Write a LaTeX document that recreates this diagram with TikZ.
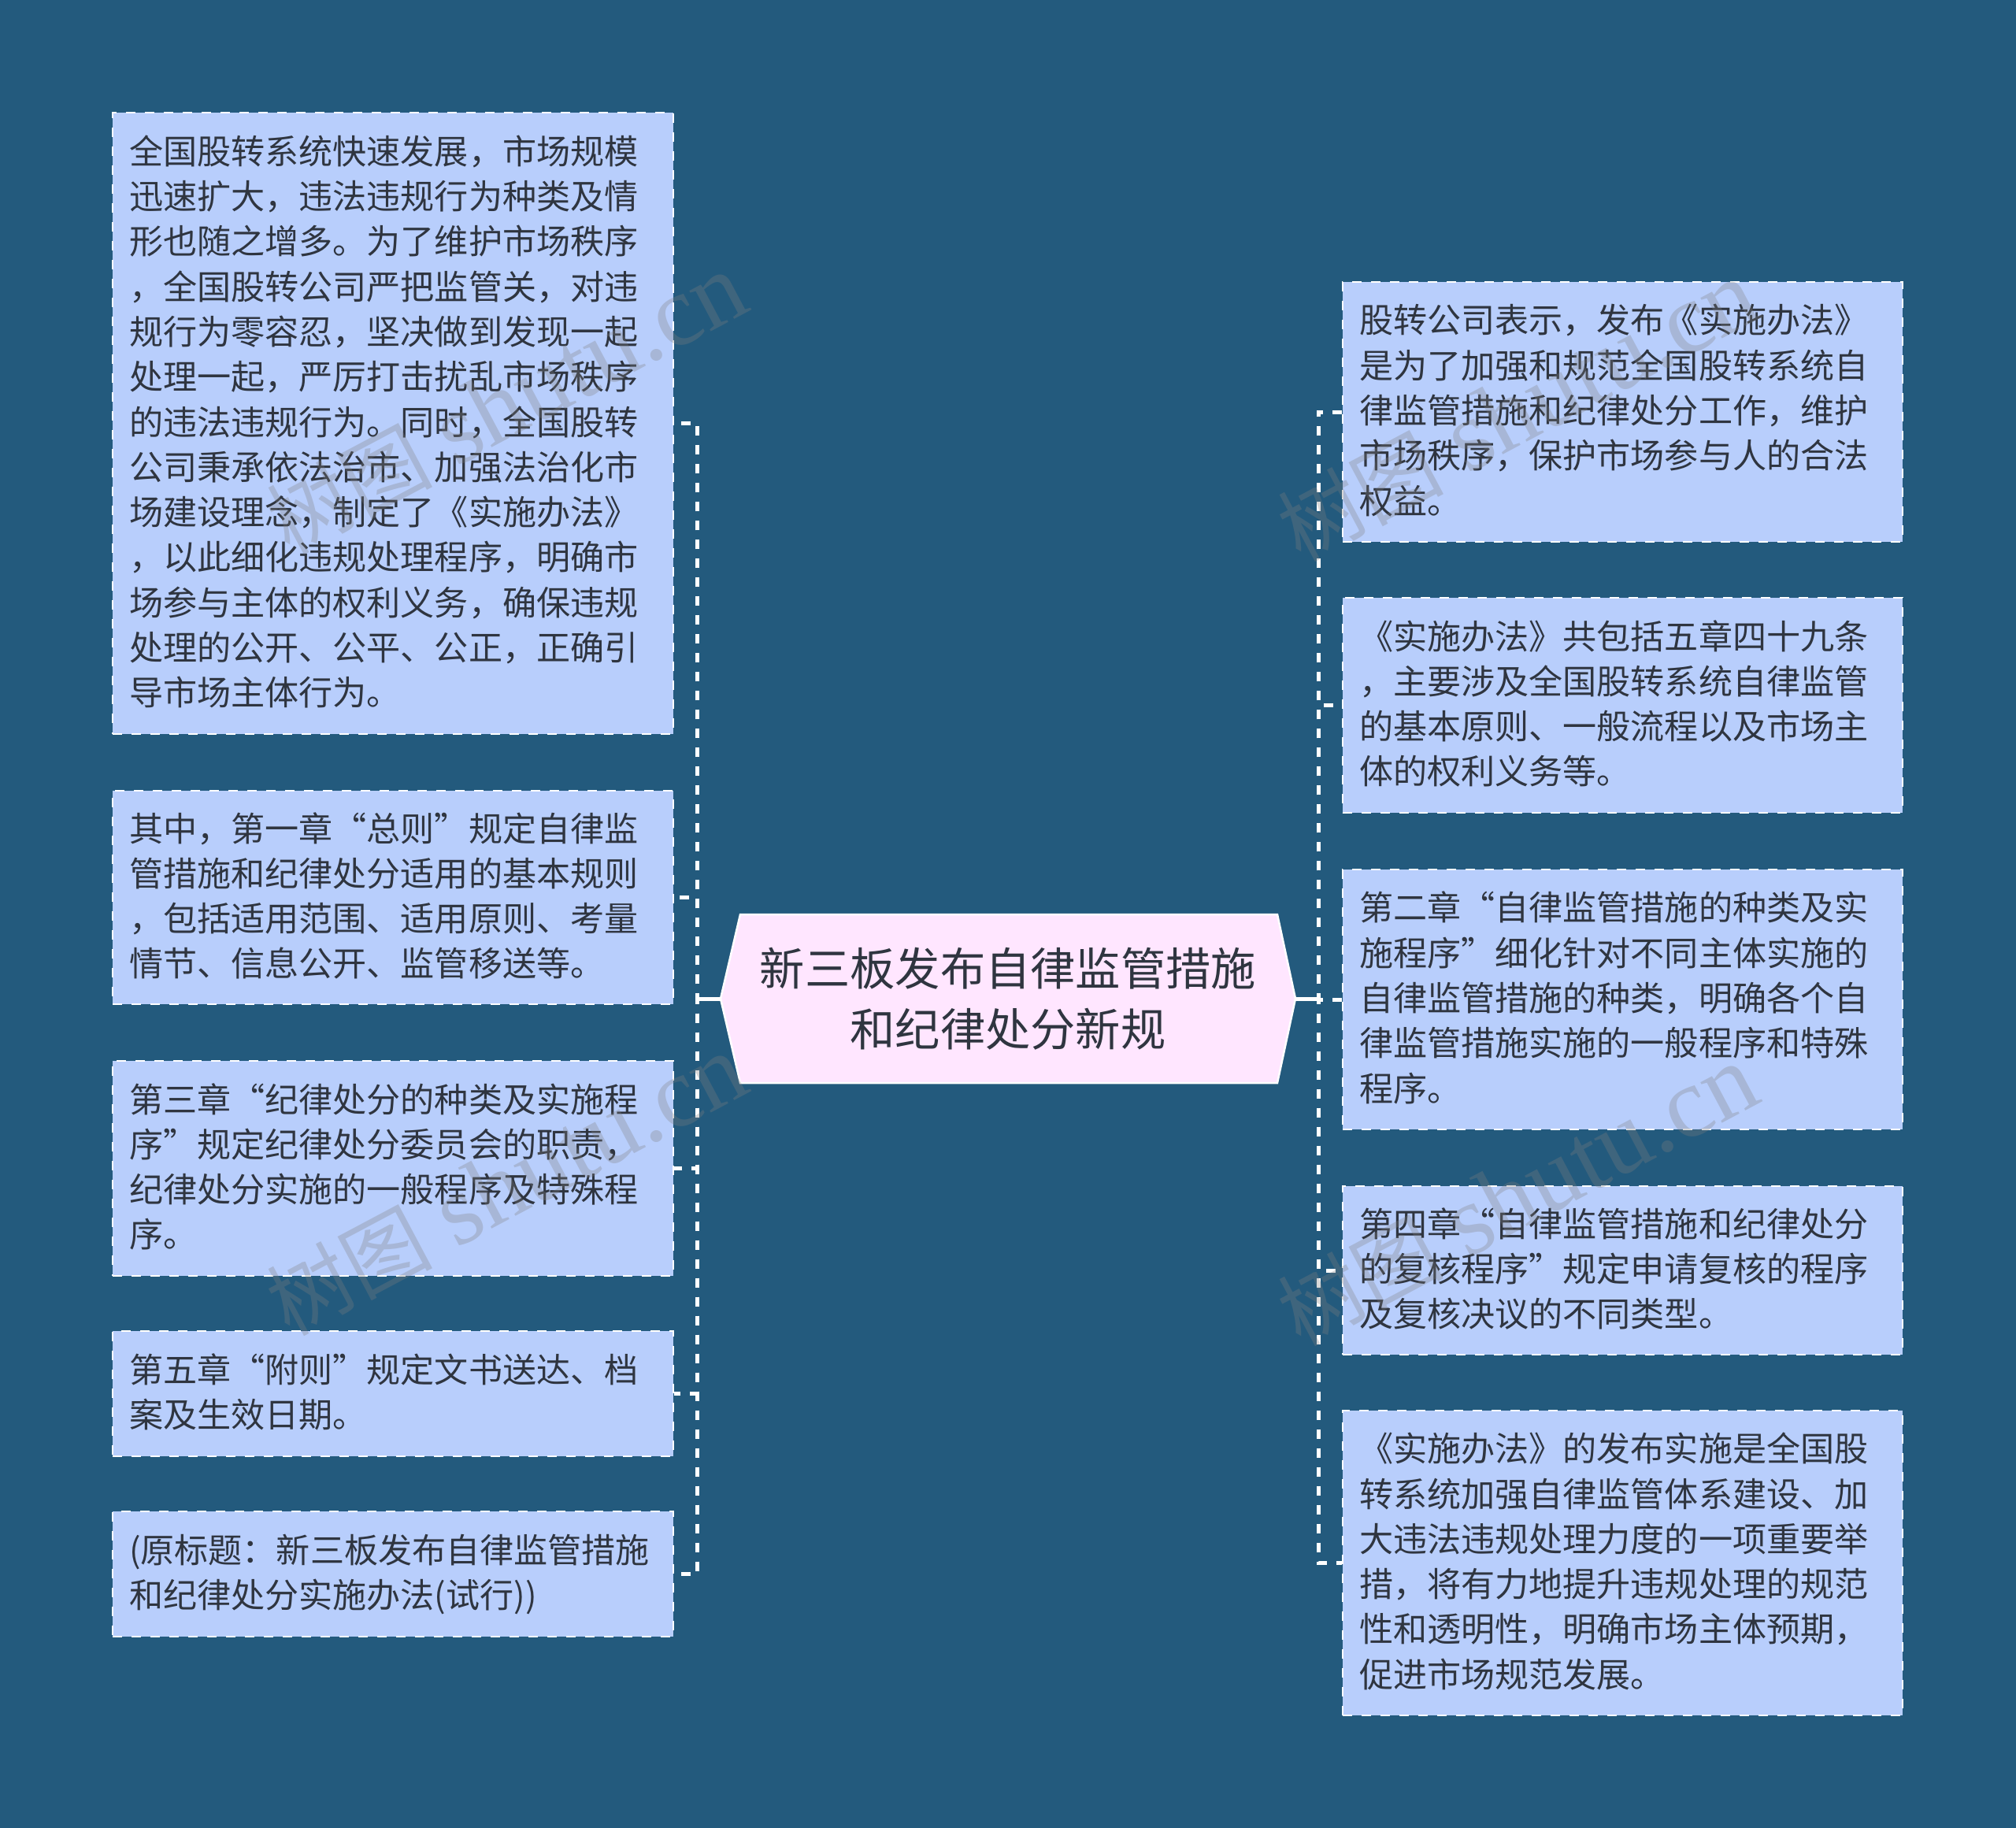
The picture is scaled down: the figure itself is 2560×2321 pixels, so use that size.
\documentclass[tikz,border=0pt]{standalone}
\usepackage{fontspec}
\setmainfont{Noto Sans CJK SC}
\newfontfamily\wmlatin{Liberation Serif}
\definecolor{bgc}{HTML}{235A7D}
\definecolor{boxc}{HTML}{B8CEFC}
\definecolor{rootc}{HTML}{FFE6FF}
\definecolor{txtc}{HTML}{2F3540}
\newcommand{\lqq}{\makebox[1em][r]{“}}
\newcommand{\rqq}{\makebox[1em][l]{”}}
\newcommand{\ls}{\rule[-8.5pt]{0pt}{46pt}}
\newcommand{\wmtext}{{\fontsize{105}{105}\selectfont 树图}\hspace{30pt}{\wmlatin\fontsize{127}{127}\selectfont shutu.cn}}
\tikzset{
  leaf/.style={draw=white,fill=boxc,line width=2.5pt,dash pattern=on 12pt off 12pt,rectangle,
    inner xsep=21pt,inner ysep=0pt,text width=#1-42pt,minimum width=#1,align=left,
    text=txtc,font=\fontsize{43.1}{57.3}\selectfont},
  rootbox/.style={draw=white,fill=rootc,line width=2.5pt,line join=miter},
  roottext/.style={rectangle,inner sep=0pt,minimum width=730pt,minimum height=214pt,align=center,
    text=txtc,font=\fontsize{57.3}{77}\selectfont},
  conn/.style={draw=white,line width=5pt,dash pattern=on 12pt off 12pt},
  stub/.style={draw=white,line width=5pt},
  wm/.style={rotate=28,text=gray,text opacity=.3,inner sep=0pt}
}
\begin{document}
\begin{tikzpicture}[x=1pt,y=-1pt]
\useasboundingbox[fill=bgc] (0,0) rectangle (2560,2321);
\coordinate (tl) at (885.5,1268);
\coordinate (tr) at (1674.5,1268);
\path[rootbox] (915,1268) -- (940,1161) -- (1622,1161) -- (1645,1268) -- (1622,1375) -- (940,1375) -- cycle;
\node[roottext] (c) at (1280,1268) {新三板发布自律监管措施\\和纪律处分新规};

\node[leaf=712pt,minimum height=789pt] (l1) at (499,537.5) {\ls 全国股转系统快速发展，市场规模\\迅速扩大，违法违规行为种类及情\\形也随之增多。为了维护市场秩序\\，全国股转公司严把监管关，对违\\规行为零容忍，坚决做到发现一起\\处理一起，严厉打击扰乱市场秩序\\的违法违规行为。同时，全国股转\\公司秉承依法治市、加强法治化市\\场建设理念，制定了《实施办法》\\，以此细化违规处理程序，明确市\\场参与主体的权利义务，确保违规\\处理的公开、公平、公正，正确引\\导市场主体行为。\ls};
\node[leaf=712pt,minimum height=271pt] (l2) at (499,1139.5) {\ls 其中，第一章\lqq 总则\rqq 规定自律监\\管措施和纪律处分适用的基本规则\\，包括适用范围、适用原则、考量\\情节、信息公开、监管移送等。\ls};
\node[leaf=712pt,minimum height=273pt] (l3) at (499,1483.5) {\ls 第三章\lqq 纪律处分的种类及实施程\\序\rqq 规定纪律处分委员会的职责，\\纪律处分实施的一般程序及特殊程\\序。\ls};
\node[leaf=712pt,minimum height=159pt] (l4) at (499,1769.5) {\ls 第五章\lqq 附则\rqq 规定文书送达、档\\案及生效日期。\ls};
\node[leaf=712pt,minimum height=159pt] (l5) at (499,1998.5) {\ls (原标题：新三板发布自律监管措施\\和纪律处分实施办法(试行))\ls};

\node[leaf=711pt,minimum height=330pt] (r1) at (2060.5,523) {\ls 股转公司表示，发布《实施办法》\\是为了加强和规范全国股转系统自\\律监管措施和纪律处分工作，维护\\市场秩序，保护市场参与人的合法\\权益。\ls};
\node[leaf=711pt,minimum height=273pt] (r2) at (2060.5,895.5) {\ls 《实施办法》共包括五章四十九条\\，主要涉及全国股转系统自律监管\\的基本原则、一般流程以及市场主\\体的权利义务等。\ls};
\node[leaf=711pt,minimum height=330pt] (r3) at (2060.5,1269) {\ls 第二章\lqq 自律监管措施的种类及实\\施程序\rqq 细化针对不同主体实施的\\自律监管措施的种类，明确各个自\\律监管措施实施的一般程序和特殊\\程序。\ls};
\node[leaf=711pt,minimum height=214pt] (r4) at (2060.5,1613) {\ls 第四章\lqq 自律监管措施和纪律处分\\的复核程序\rqq 规定申请复核的程序\\及复核决议的不同类型。\ls};
\node[leaf=711pt,minimum height=387pt] (r5) at (2060.5,1984.5) {\ls 《实施办法》的发布实施是全国股\\转系统加强自律监管体系建设、加\\大违法违规处理力度的一项重要举\\措，将有力地提升违规处理的规范\\性和透明性，明确市场主体预期，\\促进市场规范发展。\ls};

\draw[conn] (c.west) -- (tl) |- (l1.east);
\draw[conn] (c.west) -- (tl) |- (l2.east);
\draw[conn] (c.west) -- (tl) |- (l3.east);
\draw[conn] (c.west) -- (tl) |- (l4.east);
\draw[conn] (c.west) -- (tl) |- (l5.east);
\draw[stub] (c.west) -- (tl);
\draw[conn] (c.east) -- (tr) |- (r1.west);
\draw[conn] (c.east) -- (tr) |- (r2.west);
\draw[conn] (c.east) -- (tr) |- (r3.west);
\draw[conn] (c.east) -- (tr) |- (r4.west);
\draw[conn] (c.east) -- (tr) |- (r5.west);
\draw[stub] (c.east) -- (tr);

\node[wm] (w1) at (643,514) {\wmtext};
\node[wm] (w2) at (643,1506) {\wmtext};
\node[wm] (w3) at (1927,523) {\wmtext};
\node[wm] (w4) at (1927,1519) {\wmtext};
\end{tikzpicture}
\end{document}
